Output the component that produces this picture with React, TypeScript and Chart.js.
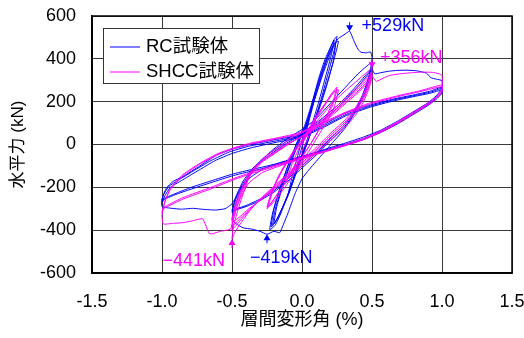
import { useEffect, useRef } from "react";
import { Chart, registerables } from "chart.js";
Chart.register(...registerables);

type P = [number, number];

const xTicks = [-1.5, -1.0, -0.5, 0, 0.5, 1.0, 1.5];
const yTicks = [-600, -400, -200, 0, 200, 400, 600];
const seriesNames = ["RC試験体", "SHCC試験体"];
const xTitle = "層間変形角 (%)";
const yTitle = "水平力 (kN)";

// RC specimen (blue) — cycles
const rcSmall: P[] = [[0,0],[0.03,70],[0.06,150],[0.09,220],[0.1,240],[0.07,160],[0.03,60],[0,-10],[-0.03,-80],[-0.06,-160],[-0.09,-220],[-0.1,-235],[-0.07,-150],[-0.03,-50],[0,20]];
const rc025a: P[] = [[0.04,110],[0.08,210],[0.12,310],[0.16,390],[0.2,450],[0.23,490],[0.25,505],[0.23,440],[0.19,340],[0.14,220],[0.09,110],[0.04,10],[0,-60],[-0.05,-150],[-0.1,-240],[-0.15,-310],[-0.19,-360],[-0.22,-385],[-0.2,-300],[-0.15,-190],[-0.09,-80],[-0.03,20],[0.02,90]];
const rc025b: P[] = [[0.06,170],[0.1,260],[0.14,340],[0.18,410],[0.21,460],[0.23,488],[0.21,420],[0.17,320],[0.12,200],[0.07,90],[0.02,-10],[-0.03,-100],[-0.08,-200],[-0.13,-280],[-0.17,-340],[-0.2,-370],[-0.18,-290],[-0.13,-180],[-0.07,-70],[-0.01,30],[0.04,110]];
const rc025c: P[] = [[0.08,200],[0.12,290],[0.16,370],[0.2,430],[0.23,470],[0.26,482],[0.23,400],[0.18,290],[0.12,170],[0.06,60],[0.01,-30],[-0.04,-120],[-0.09,-215],[-0.14,-295],[-0.18,-350],[-0.21,-378],[-0.19,-300],[-0.14,-190],[-0.08,-80],[-0.02,20],[0.03,90]];
const rc025d: P[] = [[0.07,170],[0.11,250],[0.15,330],[0.19,400],[0.22,450],[0.24,470],[0.22,380],[0.17,260],[0.11,140],[0.05,30],[0,-55],[-0.05,-140],[-0.1,-235],[-0.15,-320],[-0.19,-375],[-0.23,-398],[-0.21,-320],[-0.16,-210],[-0.1,-100],[-0.04,0],[0.02,80]];
const rc050a: P[] = [[0.08,190],[0.13,300],[0.18,400],[0.22,460],[0.26,495],[0.3,512],[0.34,529],[0.37,485],[0.4,445],[0.42,431],[0.46,428],[0.49,432],[0.5,405],[0.49,350],[0.46,280],[0.42,210],[0.37,140],[0.3,70],[0.22,10],[0.14,-50],[0.06,-110],[0,-160],[-0.05,-230],[-0.1,-320],[-0.14,-385],[-0.16,-412],[-0.2,-405],[-0.25,-419],[-0.3,-405],[-0.36,-395],[-0.42,-389],[-0.47,-370],[-0.5,-350],[-0.48,-290],[-0.44,-220],[-0.38,-150],[-0.3,-80],[-0.2,-20],[-0.1,30],[0,70],[0.1,120],[0.2,190],[0.3,260],[0.4,330],[0.47,370],[0.5,385]];
const rc050b: P[] = [[0.48,320],[0.44,240],[0.38,160],[0.3,90],[0.2,25],[0.1,-40],[0,-100],[-0.1,-160],[-0.2,-215],[-0.3,-255],[-0.4,-285],[-0.47,-300],[-0.5,-310],[-0.47,-240],[-0.42,-170],[-0.35,-110],[-0.25,-50],[-0.12,10],[0,55],[0.12,110],[0.25,180],[0.37,260],[0.45,320],[0.5,355]];
const rc050c: P[] = [[0.48,300],[0.44,225],[0.38,150],[0.3,80],[0.2,15],[0.1,-50],[0,-110],[-0.1,-170],[-0.2,-222],[-0.3,-262],[-0.4,-290],[-0.47,-305],[-0.5,-318],[-0.47,-250],[-0.42,-180],[-0.35,-118],[-0.25,-58],[-0.12,2],[0,48],[0.12,100],[0.25,170],[0.37,248],[0.45,310],[0.5,350]];
const rc100a: P[] = [[0.52,330],[0.56,335],[0.62,342],[0.68,346],[0.75,347],[0.82,344],[0.89,333],[0.92,312],[0.96,305],[1.0,298],[1.0,262],[0.96,228],[0.9,195],[0.8,155],[0.68,108],[0.56,66],[0.44,35],[0.32,9],[0.2,-15],[0.08,-40],[-0.04,-62],[-0.16,-85],[-0.28,-115],[-0.38,-160],[-0.45,-220],[-0.5,-277],[-0.55,-300],[-0.62,-306],[-0.7,-303],[-0.78,-298],[-0.86,-302],[-0.93,-298],[-1.0,-290],[-1.0,-255]];
const rc100b: P[] = [[-0.97,-205],[-0.92,-172],[-0.85,-150],[-0.73,-100],[-0.61,-50],[-0.5,-22],[-0.37,0],[-0.2,22],[0,45],[0.16,95],[0.32,150],[0.49,185],[0.65,212],[0.8,232],[0.92,250],[1.0,268],[1.0,245],[0.97,222],[0.9,188],[0.8,148],[0.68,100],[0.56,60],[0.44,28],[0.32,3],[0.2,-20],[0.08,-42],[0,-58],[-0.15,-85],[-0.3,-108],[-0.49,-137],[-0.65,-170],[-0.8,-202],[-0.9,-228],[-0.98,-250],[-1.0,-262],[-0.99,-235]];
const rc100c: P[] = [[-0.95,-195],[-0.88,-165],[-0.78,-125],[-0.65,-75],[-0.52,-35],[-0.38,-8],[-0.2,15],[0,40],[0.16,88],[0.32,142],[0.49,180],[0.65,208],[0.8,228],[0.92,245],[1.0,262],[1.0,240],[0.96,212],[0.9,182],[0.8,142],[0.68,95],[0.56,55],[0.44,23],[0.32,-2],[0.2,-25],[0.08,-47],[0,-63],[-0.15,-90],[-0.3,-115],[-0.49,-145],[-0.65,-178],[-0.8,-210],[-0.9,-233],[-0.98,-255],[-1.0,-270],[-0.98,-240]];
const rc100d: P[] = [[-0.94,-200],[-0.86,-168],[-0.75,-125],[-0.62,-75],[-0.5,-42],[-0.36,-15],[-0.2,8],[0,35],[0.16,82],[0.32,136],[0.49,175],[0.65,203],[0.8,224],[0.92,240],[1.0,256]];

// SHCC specimen (magenta)
const shSmall: P[] = [[0,0],[0.04,50],[0.08,105],[0.1,130],[0.07,70],[0.03,10],[0,-30],[-0.04,-80],[-0.08,-130],[-0.1,-150],[-0.07,-90],[-0.03,-30],[0,15]];
const sh025a: P[] = [[0.05,70],[0.1,125],[0.15,175],[0.2,225],[0.23,253],[0.25,268],[0.22,200],[0.18,140],[0.12,70],[0.06,0],[0,-55],[-0.06,-115],[-0.12,-175],[-0.18,-235],[-0.22,-275],[-0.25,-300],[-0.22,-230],[-0.17,-150],[-0.1,-70],[-0.04,-10],[0.02,40]];
const sh025b: P[] = [[0.07,100],[0.12,150],[0.17,195],[0.21,235],[0.25,258],[0.22,185],[0.17,120],[0.11,55],[0.05,-10],[-0.01,-70],[-0.07,-130],[-0.13,-190],[-0.19,-245],[-0.23,-280],[-0.25,-292],[-0.21,-210],[-0.15,-130],[-0.08,-55],[-0.02,0],[0.04,50]];
const sh025c: P[] = [[0.09,110],[0.14,160],[0.19,210],[0.23,245],[0.26,255],[0.23,175],[0.18,110],[0.12,45],[0.06,-20],[0,-80],[-0.06,-140],[-0.12,-198],[-0.18,-250],[-0.22,-282],[-0.24,-288],[-0.2,-200],[-0.14,-120],[-0.07,-48],[0,10],[0.05,55]];
const sh050a: P[] = [[0.1,105],[0.16,150],[0.22,195],[0.3,245],[0.38,290],[0.45,330],[0.5,356],[0.48,300],[0.44,240],[0.38,170],[0.3,110],[0.2,50],[0.1,-15],[0,-75],[-0.1,-135],[-0.2,-195],[-0.3,-255],[-0.38,-315],[-0.44,-370],[-0.48,-410],[-0.5,-441],[-0.49,-385],[-0.46,-310],[-0.42,-230],[-0.37,-140],[-0.3,-85],[-0.25,-48],[-0.15,-5],[-0.08,30],[0,55],[0.1,95],[0.2,150],[0.3,210],[0.4,270],[0.46,310],[0.5,340]];
const sh050b: P[] = [[0.48,285],[0.44,225],[0.38,160],[0.3,100],[0.2,40],[0.1,-25],[0,-85],[-0.1,-140],[-0.2,-200],[-0.3,-258],[-0.38,-310],[-0.44,-355],[-0.48,-385],[-0.5,-400],[-0.49,-350],[-0.46,-280],[-0.42,-210],[-0.36,-135],[-0.28,-80],[-0.2,-45],[-0.1,0],[0,40],[0.1,85],[0.2,140],[0.3,200],[0.4,260],[0.46,300],[0.5,330]];
const sh050c: P[] = [[0.48,275],[0.44,215],[0.38,150],[0.3,90],[0.2,30],[0.1,-32],[0,-92],[-0.1,-148],[-0.2,-205],[-0.3,-260],[-0.38,-305],[-0.44,-345],[-0.48,-370],[-0.5,-380],[-0.49,-330],[-0.46,-265],[-0.42,-200],[-0.36,-128],[-0.28,-75],[-0.2,-42],[-0.1,2],[0,38],[0.1,80],[0.2,135],[0.3,192],[0.4,250],[0.46,290],[0.5,322]];
const sh050d: P[] = [[0.48,265],[0.44,200],[0.38,135],[0.3,75],[0.2,18],[0.1,-42],[0,-100],[-0.1,-155],[-0.2,-210],[-0.3,-262],[-0.38,-300],[-0.44,-335],[-0.48,-355],[-0.5,-362],[-0.49,-315],[-0.46,-250],[-0.42,-188],[-0.36,-120],[-0.28,-70],[-0.2,-38],[-0.1,5],[0,35],[0.1,76],[0.2,128],[0.3,185],[0.4,242],[0.46,282],[0.5,318]];
const sh100a: P[] = [[0.53,295],[0.58,310],[0.63,323],[0.7,330],[0.78,335],[0.86,338],[0.93,337],[0.98,330],[1.0,323],[1.0,262],[0.96,222],[0.88,182],[0.8,150],[0.68,100],[0.56,58],[0.44,25],[0.32,0],[0.2,-25],[0.08,-48],[0,-65],[-0.15,-98],[-0.28,-130],[-0.38,-180],[-0.44,-250],[-0.48,-320],[-0.51,-394],[-0.58,-405],[-0.66,-417],[-0.71,-347],[-0.78,-356],[-0.85,-365],[-0.92,-368],[-0.99,-371],[-1.0,-330]];
const sh100b: P[] = [[-0.98,-270],[-0.94,-205],[-0.85,-140],[-0.73,-88],[-0.61,-45],[-0.5,-18],[-0.37,6],[-0.2,28],[-0.04,51],[0.1,88],[0.3,148],[0.49,195],[0.7,230],[0.85,252],[1.0,278],[1.0,252],[0.95,215],[0.85,172],[0.75,132],[0.6,76],[0.45,30],[0.3,-2],[0.15,-32],[0,-60],[-0.2,-98],[-0.35,-128],[-0.49,-159],[-0.65,-200],[-0.85,-248],[-0.99,-295],[-1.0,-320],[-0.98,-265]];
const sh100c: P[] = [[-0.94,-210],[-0.85,-145],[-0.73,-92],[-0.61,-50],[-0.5,-22],[-0.37,2],[-0.2,24],[-0.04,46],[0.1,84],[0.3,143],[0.49,190],[0.7,226],[0.85,248],[1.0,270],[1.0,245],[0.95,208],[0.85,165],[0.75,125],[0.6,70],[0.45,25],[0.3,-7],[0.15,-37],[0,-65],[-0.2,-104],[-0.35,-134],[-0.49,-165],[-0.65,-207],[-0.85,-255],[-0.99,-300],[-1.0,-310]];

const rcCycles = [rcSmall, rc025a, rc025b, rc025c, rc025d, rc050a, rc050b, rc050c, rc100a, rc100b, rc100c, rc100d];
const shCycles = [shSmall, sh025a, sh025b, sh025c, sh050a, sh050b, sh050c, sh050d, sh100a, sh100b, sh100c];

// Peak annotations
const peakX = [0.34, 0.5, -0.5, -0.25];
const peakY = [529, 356, -441, -419];
const peakLabels = ["+529kN", "+356kN", "\u2212441kN", "\u2212419kN"];
const peakSeries = [0, 1, 1, 0];

// styles
const colors = ["#0000ff", "#ff00ff"];
const labelOffsets: [number, number, CanvasTextAlign][] = [[12, -5, "left"], [8, -10, "left"], [-7, 22, "right"], [-17, 24, "left"]];
const FONT = "'Liberation Sans', Arial, 'Noto Sans CJK JP', sans-serif";

const toXY = (cycles: P[][]) => cycles.flat().map(([x, y]) => ({ x, y }));

export default function App() {
  const ref = useRef<HTMLCanvasElement>(null);
  useEffect(() => {
    if (!ref.current) return;
    const overlay = {
      id: "overlay",
      afterDatasetsDraw(chart: any) {
        const { ctx, chartArea: a, scales } = chart;
        const xs = scales.x, ys = scales.y;
        ctx.save();
        ctx.strokeStyle = "#000";
        ctx.lineWidth = 1.5;
        ctx.strokeRect(a.left, a.top, a.right - a.left, a.bottom - a.top);
        peakX.forEach((pxv, i) => {
          const cx = xs.getPixelForValue(pxv);
          const cy = ys.getPixelForValue(peakY[i]);
          const dir = peakY[i] > 0 ? -1 : 1;
          const c = colors[peakSeries[i]];
          ctx.fillStyle = c;
          ctx.strokeStyle = c;
          ctx.lineWidth = 1;
          ctx.beginPath();
          ctx.moveTo(cx, cy);
          ctx.lineTo(cx - 3.5, cy + dir * 6);
          ctx.lineTo(cx + 3.5, cy + dir * 6);
          ctx.closePath();
          ctx.fill();
          ctx.beginPath();
          ctx.moveTo(cx, cy + dir * 5);
          ctx.lineTo(cx, cy + dir * 9);
          ctx.stroke();
          const [ox, oy, al] = labelOffsets[i];
          ctx.font = `18px ${FONT}`;
          ctx.textAlign = al;
          ctx.textBaseline = "middle";
          ctx.fillText(peakLabels[i], cx + ox, cy + oy);
        });
        const lx = a.left + 11, ly = a.top + 12;
        ctx.fillStyle = "#fff";
        ctx.fillRect(lx, ly, 156, 55);
        ctx.strokeStyle = "#333";
        ctx.lineWidth = 1;
        ctx.strokeRect(lx + 0.5, ly + 0.5, 156, 55);
        seriesNames.forEach((n, i) => {
          const yy = ly + 19 + i * 25;
          ctx.strokeStyle = colors[i];
          ctx.lineWidth = 1;
          ctx.beginPath();
          ctx.moveTo(lx + 7, yy);
          ctx.lineTo(lx + 37, yy);
          ctx.stroke();
          ctx.fillStyle = "#000";
          ctx.font = `18.5px ${FONT}`;
          ctx.textAlign = "left";
          ctx.textBaseline = "middle";
          ctx.fillText(n, lx + 43, yy);
        });
        ctx.restore();
      },
    };
    const chart = new Chart(ref.current, {
      type: "scatter",
      data: {
        datasets: [
          { label: seriesNames[0], data: toXY(rcCycles), showLine: true, borderColor: colors[0], borderWidth: 1, pointRadius: 0, tension: 0.15, order: 2 },
          { label: seriesNames[1], data: toXY(shCycles), showLine: true, borderColor: colors[1], borderWidth: 1, pointRadius: 0, tension: 0.15, order: 1 },
        ],
      },
      options: {
        animation: false,
        responsive: false,
        layout: { padding: { left: 0, right: 12, top: 16, bottom: 0 } },
        plugins: { legend: { display: false }, tooltip: { enabled: false } },
        scales: {
          x: {
            type: "linear",
            min: -1.5,
            max: 1.5,
            afterBuildTicks: (s: any) => { s.ticks = xTicks.map((v) => ({ value: v })); },
            afterFit: (s: any) => { s.height = 65; s.paddingLeft = 0; s.paddingRight = 0; },
            ticks: { color: "#000", padding: 18, font: { family: FONT, size: 18 }, callback: (v: any) => Number(v).toFixed(1) },
            grid: { color: "#3a3a3a", lineWidth: 1, drawTicks: false },
            border: { color: "#000", width: 1.5 },
            title: { display: true, text: xTitle, color: "#000", font: { family: FONT, size: 18 }, padding: { top: 0, bottom: 7 } },
          },
          y: {
            type: "linear",
            min: -600,
            max: 600,
            afterBuildTicks: (s: any) => { s.ticks = yTicks.map((v) => ({ value: v })); },
            afterFit: (s: any) => { s.width = 92; s.paddingTop = 0; s.paddingBottom = 0; },
            ticks: { color: "#000", padding: 16, font: { family: FONT, size: 18 }, callback: (v: any) => String(v) },
            grid: { color: "#3a3a3a", lineWidth: 1, drawTicks: false },
            border: { color: "#000", width: 1.5 },
            title: { display: true, text: yTitle, color: "#000", font: { family: FONT, size: 17 }, padding: { top: 8, bottom: 0 } },
          },
        },
      },
      plugins: [overlay],
    });
    return () => chart.destroy();
  }, []);
  return (
    <div style={{ position: "absolute", left: 0, top: 0, width: 524, height: 338, background: "#fff" }}>
      <canvas ref={ref} width={524} height={338} />
    </div>
  );
}
